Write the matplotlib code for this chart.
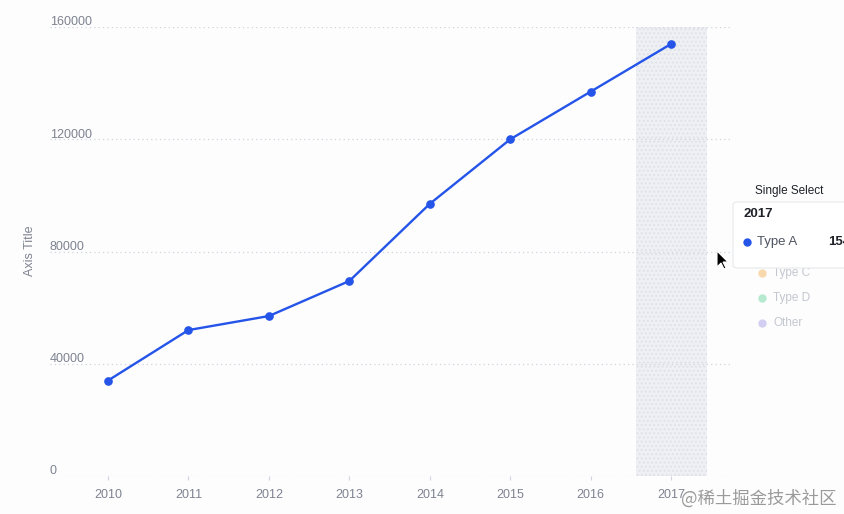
import matplotlib.pyplot as plt
from matplotlib.patches import FancyBboxPatch, Polygon
from matplotlib.lines import Line2D
from matplotlib.transforms import blended_transform_factory

years = ['2010', '2011', '2012', '2013', '2014', '2015', '2016', '2017']
type_a = [34000, 52000, 57000, 69500, 97000, 120000, 137000, 154000]
y_ticks = [0, 40000, 80000, 120000, 160000]
legend_rest = ['Type C', 'Type D', 'Other']
legend_colors = ['#f8d9ad', '#b5ead0', '#d3cff3']
hover_year = '2017'

W, H = 844, 514
fig = plt.figure(figsize=(W / 100, H / 100), dpi=100)
fig.patch.set_facecolor('#fdfdfe')
plt.rcParams['font.family'] = ['Liberation Sans', 'DejaVu Sans']

ax = fig.add_axes([50 / W, (H - 476) / H, 680 / W, 449 / H])
ax.set_facecolor('none')
x = list(range(len(years)))

# hover band
hi = years.index(hover_year)
ax.axvspan(hi - 0.44, hi + 0.44, facecolor='#eef0f4', edgecolor='#dfe2e8',
           hatch='....', zorder=0, lw=0)

for t in y_ticks:
    ax.axhline(t, color='#cfd3dc', lw=0.9, ls=(0, (1, 2.5)), zorder=1)

ax.plot(x, type_a, color='#2454e8', lw=1.7, marker='o', markersize=5.2, zorder=3)

ax.set_xlim(-0.72, 7.73)
ax.set_ylim(0, 160000)
for s in ax.spines.values():
    s.set_visible(False)
ax.set_yticks([])
ax.set_xticks(x)
ax.set_xticklabels(years, fontsize=9, color='#7d8390')
ax.tick_params(axis='x', length=3, color='#cfd3dc', pad=6)

tr = blended_transform_factory(ax.transAxes, ax.transData)
for t in y_ticks:
    ax.text(0, t + 600, str(t), transform=tr, ha='left', va='baseline',
            fontsize=9, color='#7d8390')

fig.text(30 / W, 1 - 251 / H, 'Axis Title', rotation=90, ha='center', va='center',
         fontsize=9, color='#7d8390')


def dot(px, py, c, z):
    fig.lines.append(Line2D([px / W], [1 - py / H], transform=fig.transFigure,
                            marker='o', markersize=6, color=c, mec='none', zorder=z))


# legend behind tooltip
fig.text(755 / W, 1 - 191 / H, 'Single Select', ha='left', va='center',
         fontsize=8.5, color='#1f2329')
for i, (name, c) in enumerate(zip(legend_rest, legend_colors)):
    yy = 273 + 25 * i
    dot(762, yy, c, 2)
    fig.text(773 / W, 1 - yy / H, name, ha='left', va='center', fontsize=8.5,
             color='#c3c7cf')

# tooltip
fig.patches.append(FancyBboxPatch((733 / W, 1 - 268 / H), 130 / W, 66 / H,
                                  boxstyle='round,pad=0,rounding_size=0.006',
                                  transform=fig.transFigure, facecolor='white',
                                  edgecolor='#e6e8ec', lw=0.8, zorder=5))
fig.text(743 / W, 1 - 214 / H, hover_year, ha='left', va='center', fontsize=9.5,
         fontweight='bold', color='#1f2329', zorder=6)
dot(747, 242, '#2454e8', 6)
fig.text(757 / W, 1 - 242 / H, 'Type A', ha='left', va='center', fontsize=9.5,
         color='#4e5460', zorder=6)
fig.text(828 / W, 1 - 242 / H, str(type_a[hi]), ha='left', va='center', fontsize=9.5,
         fontweight='bold', color='#1f2329', zorder=6)

# mouse cursor
cx, cy = 717, 251
pts = [(0, 0), (0, 16), (4, 12), (7, 18), (9, 17), (6, 11), (11, 11)]
fig.patches.append(Polygon([((cx + px) / W, 1 - (cy + py) / H) for px, py in pts],
                           closed=True, transform=fig.transFigure, facecolor='black',
                           edgecolor='white', lw=0.8, zorder=7))

fig.text(837 / W, 1 - 499 / H, '@稀土掘金技术社区', ha='right', va='center', fontsize=12.5,
         color='#9a9a9a', family=['Noto Sans CJK SC', 'DejaVu Sans'])

fig.savefig('out.png', dpi=100, facecolor=fig.get_facecolor())
